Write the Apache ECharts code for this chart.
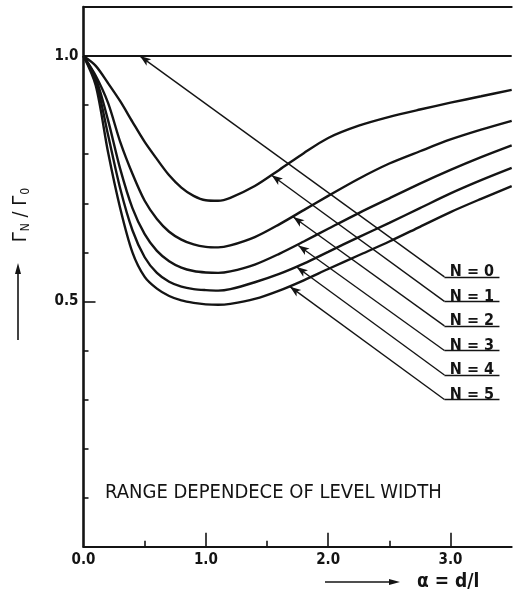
<!DOCTYPE html>
<html>
<head>
<meta charset="utf-8">
<script src="https://cdn.jsdelivr.net/npm/echarts@6/dist/echarts.min.js"></script>
<style>
  html, body { margin: 0; padding: 0; background: #ffffff; }
  #chart { width: 514px; height: 592px; }
</style>
</head>
<body>
<div id="chart"></div>
<script>
// Separation parameter alpha = d/l at which each level-width curve is sampled
const alphaValues = [0, 0.1, 0.2, 0.3, 0.4, 0.5, 0.6, 0.7, 0.8, 0.9, 1.0, 1.1, 1.2, 1.4, 1.6, 1.8, 2.0, 2.25, 2.5, 2.75, 3.0, 3.25, 3.5];

// Relative level width Gamma_N / Gamma_0 for N = 0 ... 5
const widthN0 = [1, 1, 1, 1, 1, 1, 1, 1, 1, 1, 1, 1, 1, 1, 1, 1, 1, 1, 1, 1, 1, 1, 1];
const widthN1 = [1.0, 0.980, 0.945, 0.908, 0.866, 0.825, 0.790, 0.757, 0.732, 0.715, 0.706, 0.705, 0.711, 0.735, 0.768, 0.802, 0.833, 0.858, 0.876, 0.891, 0.905, 0.918, 0.931];
const widthN2 = [1.0, 0.960, 0.905, 0.825, 0.760, 0.705, 0.668, 0.642, 0.626, 0.616, 0.611, 0.610, 0.614, 0.631, 0.657, 0.686, 0.715, 0.750, 0.781, 0.806, 0.830, 0.850, 0.868];
const widthN3 = [1.0, 0.955, 0.870, 0.770, 0.690, 0.637, 0.603, 0.582, 0.569, 0.562, 0.559, 0.558, 0.561, 0.575, 0.597, 0.622, 0.648, 0.680, 0.710, 0.740, 0.768, 0.794, 0.818];
const widthN4 = [1.0, 0.950, 0.840, 0.730, 0.645, 0.590, 0.558, 0.540, 0.530, 0.525, 0.523, 0.522, 0.525, 0.539, 0.556, 0.577, 0.601, 0.631, 0.660, 0.690, 0.720, 0.747, 0.772];
const widthN5 = [1.0, 0.940, 0.805, 0.690, 0.600, 0.550, 0.526, 0.511, 0.502, 0.497, 0.494, 0.493, 0.495, 0.505, 0.522, 0.543, 0.566, 0.594, 0.622, 0.652, 0.682, 0.709, 0.735];

const curveNames = ['N = 0', 'N = 1', 'N = 2', 'N = 3', 'N = 4', 'N = 5'];
const curveValues = [widthN0, widthN1, widthN2, widthN3, widthN4, widthN5];

// Callout leaders: arrow tip on each curve, label row height, leader elbow and end
const calloutTipAlpha = [0.462, 1.538, 1.715, 1.756, 1.743, 1.688];
const calloutTipWidth = [1.0, 0.757, 0.672, 0.614, 0.570, 0.530];
const calloutRowWidth = [0.55, 0.50, 0.45, 0.40, 0.35, 0.30];
const calloutElbowAlpha = 2.95;
const calloutEndAlpha = 3.40;

// Axis tick labels
const xTickValues = [0, 1, 2, 3];
const xTickLabels = ['0.0', '1.0', '2.0', '3.0'];
const yTickValues = [0.5, 1.0];
const yTickLabels = ['0.5', '1.0'];

const INK = '#141414';
const FONT = '"DejaVu Sans Condensed", "DejaVu Sans", sans-serif';

const chart = echarts.init(document.getElementById('chart'), null, { renderer: 'canvas' });

const curveSeries = curveValues.map((vals, k) => ({
  name: curveNames[k],
  type: 'line',
  xAxisIndex: 0,
  yAxisIndex: 0,
  data: alphaValues.map((a, i) => [a, vals[i]]),
  smooth: k === 0 ? false : 0.3,
  showSymbol: false,
  silent: true,
  lineStyle: { color: INK, width: k === 0 ? 2 : 2.4 },
  z: 3
}));

const calloutSeries = curveNames.map((name, k) => ({
  name: name + ' callout',
  type: 'scatter',
  xAxisIndex: 0,
  yAxisIndex: 0,
  data: [[(calloutElbowAlpha + calloutEndAlpha) / 2, calloutRowWidth[k]]],
  symbolSize: 0,
  silent: true,
  itemStyle: { opacity: 1, color: INK },
  label: {
    show: true,
    position: 'top',
    distance: -3,
    formatter: name,
    color: INK,
    fontFamily: FONT,
    fontWeight: 'bold',
    fontSize: 16
  },
  markLine: {
    silent: true,
    animation: false,
    label: { show: false },
    lineStyle: { color: INK, width: 1.4, type: 'solid', opacity: 1 },
    data: [
      [
        { coord: [calloutTipAlpha[k], calloutTipWidth[k]], symbol: 'arrow', symbolSize: [6, 11] },
        { coord: [calloutElbowAlpha, calloutRowWidth[k]], symbol: 'none' }
      ],
      [
        { coord: [calloutElbowAlpha, calloutRowWidth[k]], symbol: 'none' },
        { coord: [calloutEndAlpha, calloutRowWidth[k]], symbol: 'none' }
      ]
    ]
  },
  z: 4
}));

const option = {
  backgroundColor: '#ffffff',
  animation: false,
  title: {
    text: 'RANGE DEPENDECE OF LEVEL WIDTH',
    left: 100,
    top: 478,
    textStyle: { color: INK, fontFamily: FONT, fontWeight: 'normal', fontSize: 20 }
  },
  grid: { left: 83.5, right: 2.3, top: 7, bottom: 45.3, containLabel: false },
  xAxis: [
    {
      type: 'value',
      position: 'bottom',
      min: 0,
      max: 3.5,
      interval: 1,
      axisLine: { show: true, onZero: false, lineStyle: { color: INK, width: 2 } },
      axisTick: { show: true, inside: true, length: 14, customValues: [1, 2, 3], lineStyle: { color: INK, width: 1.6 } },
      minorTick: { show: true, splitNumber: 2, length: 6, lineStyle: { color: INK, width: 1.6 } },
      axisLabel: {
        customValues: xTickValues,
        formatter: (v) => xTickLabels[xTickValues.indexOf(v)] || '',
        margin: 6,
        color: INK,
        fontFamily: FONT,
        fontWeight: 'bold',
        fontSize: 15
      },
      splitLine: { show: false }
    },
    {
      type: 'value',
      position: 'top',
      min: 0,
      max: 3.5,
      axisLine: { show: true, onZero: false, lineStyle: { color: INK, width: 2 } },
      axisTick: { show: false },
      axisLabel: { show: false },
      splitLine: { show: false }
    }
  ],
  yAxis: {
    type: 'value',
    min: 0,
    max: 1.1,
    interval: 0.5,
    axisLine: { show: true, onZero: false, lineStyle: { color: INK, width: 2.6 } },
    axisTick: { show: true, inside: true, length: 12, customValues: [0.5], lineStyle: { color: INK, width: 1.6 } },
    minorTick: { show: true, splitNumber: 5, length: 5, lineStyle: { color: INK, width: 1.6 } },
    axisLabel: {
      customValues: yTickValues,
      formatter: (v) => yTickLabels[yTickValues.indexOf(v)] || '',
      margin: 5,
      color: INK,
      fontFamily: FONT,
      fontWeight: 'bold',
      fontSize: 15
    },
    splitLine: { show: false }
  },
  graphic: [
    // vertical axis caption with its upward arrow
    {
      type: 'text',
      x: 21,
      y: 215,
      rotation: Math.PI / 2,
      style: {
        text: '{g|Γ}{s|N}{g| / Γ}{s|0}',
        align: 'center',
        verticalAlign: 'middle',
        fill: INK,
        rich: {
          g: { fontFamily: FONT, fontSize: 20, fill: INK },
          s: { fontFamily: FONT, fontSize: 12, fill: INK, padding: [9, 0, 0, 1] }
        }
      }
    },
    { type: 'line', shape: { x1: 18, y1: 340, x2: 18, y2: 270 }, style: { stroke: INK, lineWidth: 1.6 } },
    { type: 'polygon', shape: { points: [[18, 263], [15, 274], [21, 274]] }, style: { fill: INK } },
    // horizontal axis caption with its rightward arrow
    { type: 'line', shape: { x1: 325, y1: 582, x2: 392, y2: 582 }, style: { stroke: INK, lineWidth: 1.6 } },
    { type: 'polygon', shape: { points: [[400, 582], [389, 579], [389, 585]] }, style: { fill: INK } },
    {
      type: 'text',
      x: 417,
      y: 582,
      style: {
        text: 'α = d/l',
        align: 'left',
        verticalAlign: 'middle',
        fill: INK,
        fontFamily: FONT,
        fontWeight: 'bold',
        fontSize: 19
      }
    }
  ],
  series: curveSeries.concat(calloutSeries)
};

chart.setOption(option);
</script>
</body>
</html>
